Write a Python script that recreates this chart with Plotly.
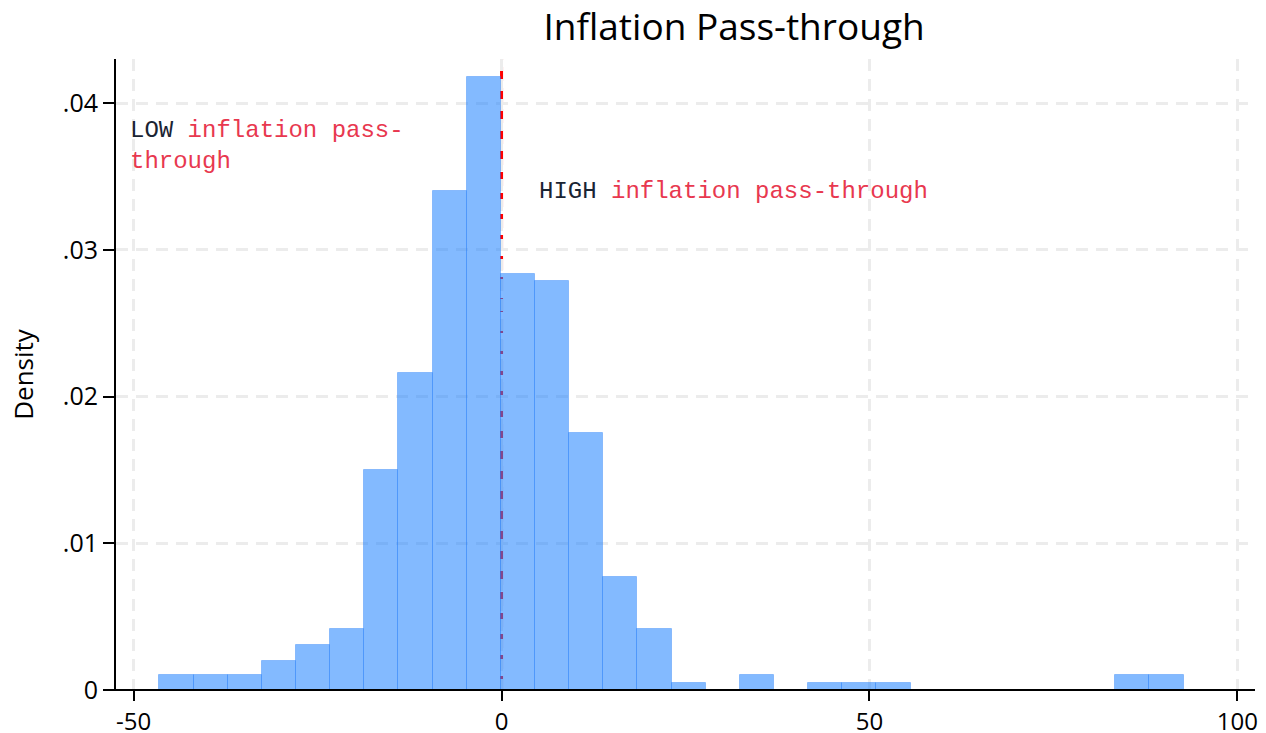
import plotly.graph_objects as go

# ---- data ----
bin_start = -46.5
bin_width = 4.64
density = [0.00104, 0.00104, 0.00104, 0.00201, 0.00308, 0.00413,
           0.01496, 0.0216, 0.0340, 0.04178, 0.02835, 0.02786,
           0.01748, 0.0077, 0.00413, 0.00051, 0.0, 0.00104,
           0.0, 0.00051, 0.00051, 0.00051, 0.0, 0.0,
           0.0, 0.0, 0.0, 0.0, 0.00104, 0.00104]
x_tickvals = [-50, 0, 50, 100]
x_ticktext = ["-50", "0", "50", "100"]
y_tickvals = [0, 0.01, 0.02, 0.03, 0.04]
y_ticktext = ["0", ".01", ".02", ".03", ".04"]
title_text = "Inflation Pass-through"
ytitle = "Density"
threshold = 0

lefts = [bin_start + i * bin_width for i in range(len(density))]
xs = [l for l, d in zip(lefts, density) if d > 0]
ys = [d for d in density if d > 0]

fig = go.Figure()
fig.add_trace(go.Bar(
    x=xs, y=ys, width=bin_width, offset=0,
    marker=dict(color="rgba(30,130,255,0.55)",
                line=dict(color="rgba(30,120,245,0.35)", width=1)),
    showlegend=False, hoverinfo="skip"))

fig.add_shape(type="line", xref="x", yref="paper", x0=threshold, x1=threshold,
              y0=0, y1=1, layer="between",
              line=dict(color="#ff0000", width=3, dash="14px,7px"))
# x-axis baseline extending slightly left of the y axis (Stata style)
fig.add_shape(type="line", xref="paper", yref="paper", x0=-0.0097, x1=1,
              y0=0, y1=0, layer="above", line=dict(color="black", width=2))

mono = "Liberation Mono, Courier New, monospace"
red = "#e8384f"
dark = "#1a2433"
fig.add_annotation(x=-50.72, y=0.0381, xref="x", yref="y", xanchor="left",
                   yanchor="middle", showarrow=False,
                   text=f"<span style='color:{dark}'>LOW</span> inflation pass-",
                   font=dict(family=mono, size=24, color=red))
fig.add_annotation(x=-50.72, y=0.0360, xref="x", yref="y", xanchor="left",
                   yanchor="middle", showarrow=False, text="through",
                   font=dict(family=mono, size=24, color=red))
fig.add_annotation(x=4.81, y=0.0340, xref="x", yref="y", xanchor="left",
                   yanchor="middle", showarrow=False,
                   text=f"<span style='color:{dark}'>HIGH</span> inflation pass-through",
                   font=dict(family=mono, size=24, color=red))

sans = "Open Sans, Noto Sans, sans-serif"
fig.update_layout(
    width=1266, height=733,
    margin=dict(l=116, r=11, t=59, b=43),
    paper_bgcolor="white", plot_bgcolor="white",
    bargap=0,
    title=dict(text=title_text, x=687 / 1266, xanchor="center", xref="paper",
               y=1 - 27 / 733, yref="container", yanchor="middle",
               font=dict(family=sans, size=37, color="black")),
    font=dict(family=sans, color="black"),
    xaxis=dict(range=[-52.4, 102.4], tickvals=x_tickvals, ticktext=x_ticktext,
               ticks="outside", ticklen=10, tickwidth=2, tickcolor="black",
               tickfont=dict(family=sans, size=24, color="black"),
               showline=False, zeroline=False, automargin=False,
               showgrid=True, gridcolor="#ececec", gridwidth=2.5, griddash="12px,8px"),
    yaxis=dict(range=[0, 0.0430], tickvals=y_tickvals, ticktext=y_ticktext,
               ticks="outside", ticklen=11, tickwidth=2, tickcolor="black",
               tickfont=dict(family=sans, size=25, color="black"),
               showline=True, linecolor="black", linewidth=2, zeroline=False,
               automargin=False,
               showgrid=True, gridcolor="#ececec", gridwidth=2.5, griddash="12px,8px",
               title=dict(text=ytitle, font=dict(family=sans, size=26, color="black"),
                          standoff=22)),
)

fig.write_html("out.html", config={"displayModeBar": False},
               post_script="document.body.style.margin='0';document.body.style.overflow='hidden';")
